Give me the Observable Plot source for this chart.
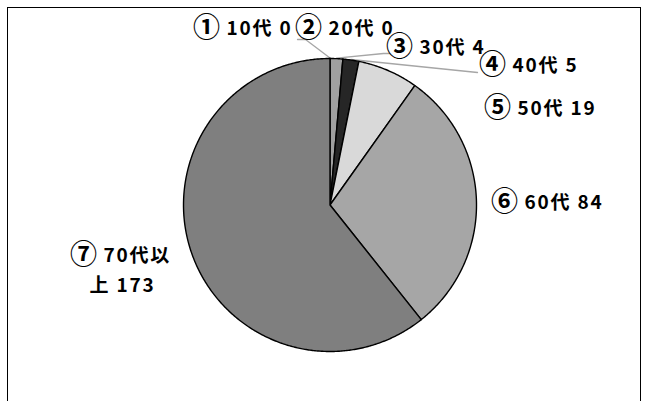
<!DOCTYPE html>
<html><head><meta charset="utf-8">
<script src="https://cdn.jsdelivr.net/npm/d3@7"></script>
<script src="https://cdn.jsdelivr.net/npm/@observablehq/plot@0.6"></script>
<style>
html,body{margin:0;padding:0;background:#fff;}
#wrap{position:relative;width:646px;height:401px;overflow:hidden;}
#border{position:absolute;left:7px;top:7px;width:634px;height:420px;border:1.6px solid #000;box-sizing:border-box;}
svg g.lbl text{letter-spacing:1.8px;}
</style>
</head><body>
<div id="wrap"><div id="border"></div></div>
<script>
// Data
const categories = ["① 10代", "② 20代", "③ 30代", "④ 40代", "⑤ 50代", "⑥ 60代", "⑦ 70代以上"];
const values = [0, 0, 4, 5, 19, 84, 173];
const colors = ["#bfbfbf", "#cfcfcf", "#a0a0a0", "#262626", "#d9d9d9", "#a6a6a6", "#7f7f7f"];

// Layout (pixels)
const cx = 329.5, cy = 204.5, R = 146.5;
const labelLeft = [[195, 28], [297, 28], [388, 47], [481, 65], [486, 108], [493, 202], [72, 255]];
const labelBreak = [null, null, null, null, null, null, 6];
const contPos = [null, null, null, null, null, null, [122, 285]];
const leaderEnds = [[[297, 39], [305, 39]], null, [[389, 53], [383, 53]], [[477, 72]], null, null, null];

const arcs = d3.pie().sort(null).value(d => d)(values);
const edge = (a, rr = R) => ({x: cx + rr * Math.sin(a), y: cy - rr * Math.cos(a)});

const sliceMarks = arcs.map((a, i) => {
  const pts = [{x: cx, y: cy}];
  const n = Math.max(1, Math.ceil((a.endAngle - a.startAngle) / (Math.PI / 360)));
  for (let k = 0; k <= n; k++) pts.push(edge(a.startAngle + (a.endAngle - a.startAngle) * k / n));
  return Plot.line(pts, {x: "x", y: "y", fill: colors[i], stroke: "#000", strokeWidth: 1.4, strokeLinejoin: "round", curve: "linear-closed"});
});

const leaderData = [];
arcs.forEach((a, i) => {
  if (!leaderEnds[i]) return;
  const mid = (a.startAngle + a.endAngle) / 2;
  const p0 = edge(mid, R + 0.5);
  leaderData.push({k: i, x: p0.x, y: p0.y});
  leaderEnds[i].slice().reverse().forEach(([x, y]) => leaderData.push({k: i, x, y}));
});

const markers = [], mainText = [], contText = [];
categories.forEach((c, i) => {
  const chars = [...c];
  const mark = chars[0];
  let t = `${chars.slice(2).join("")} ${values[i]}`;
  const [lx, ly] = labelLeft[i];
  markers.push({text: mark, x: lx + 11, y: ly});
  if (labelBreak[i] != null) {
    const b = labelBreak[i] - 2;
    contText.push({text: t.slice(b), x: contPos[i][0], y: contPos[i][1]});
    t = t.slice(0, b);
  }
  mainText.push({text: t, x: lx + 31, y: ly});
});

const font = "'Noto Sans CJK JP', 'Noto Sans', sans-serif";
const chart = Plot.plot({
  width: 646, height: 401, margin: 0,
  style: {background: "transparent"},
  x: {domain: [0, 646], range: [0, 646], axis: null},
  y: {domain: [0, 401], range: [0, 401], axis: null},
  marks: [
    Plot.line(leaderData, {x: "x", y: "y", z: "k", stroke: "#a6a6a6", strokeWidth: 1.3}),
    ...sliceMarks,
    Plot.text(markers, {x: "x", y: "y", text: "text", fill: "#000", fontSize: 27, fontWeight: "bold", fontFamily: font}),
    Plot.text(mainText, {x: "x", y: "y", text: "text", textAnchor: "start", fill: "#000", fontSize: 19, fontWeight: "bold", fontFamily: font, className: "lbl"}),
    Plot.text(contText, {x: "x", y: "y", text: "text", fill: "#000", fontSize: 19, fontWeight: "bold", fontFamily: font, className: "lbl"})
  ]
});
chart.style.position = "absolute";
chart.style.left = "0"; chart.style.top = "0";
document.getElementById("wrap").appendChild(chart);
</script>
</body></html>
